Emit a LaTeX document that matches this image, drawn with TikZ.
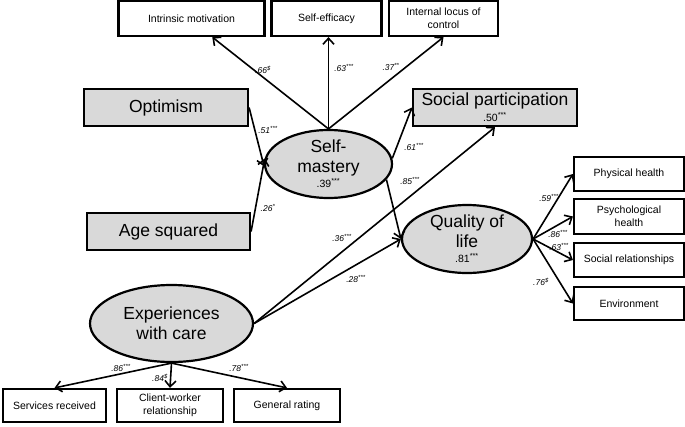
\documentclass[tikz,border=0pt]{standalone}
\usepackage{fontspec}
\setmainfont{Liberation Sans}
\usetikzlibrary{arrows.meta,calc,shapes.geometric}
\definecolor{boxgray}{HTML}{D9D9D9}
\begin{document}
\begin{tikzpicture}[x=1pt,y=-1pt,
    latent/.style={ellipse,draw,line width=2.2pt,fill=boxgray,inner sep=0pt,align=center,font=\fontsize{17.5}{20}\selectfont},
    observed/.style={rectangle,draw,line width=2.2pt,fill=boxgray,inner sep=0pt,align=center,font=\fontsize{17.5}{20}\selectfont},
    indicator/.style={rectangle,draw,line width=2.2pt,fill=white,inner sep=0pt,align=center,font=\fontsize{10.5}{13}\selectfont},
    coef/.style={font=\fontsize{8.5}{9}\selectfont\itshape,inner sep=0pt},
    path/.style={line width=1.6pt,-{Straight Barb[length=6pt,width=11pt,line width=1.6pt]}}]
  \useasboundingbox (0,0) rectangle (685,426);
  \draw
    (191.5,18.5) node[indicator,minimum width=146pt,minimum height=35pt] (intr){Intrinsic motivation}
    (326.5,18.5) node[indicator,minimum width=110pt,minimum height=35pt] (selfeff){Self-efficacy}
    (443.5,18.5) node[indicator,minimum width=109pt,minimum height=35pt] (locus){Internal locus of\\control}
    (166,107.5) node[observed,minimum width=164pt,minimum height=37pt] (optim){Optimism}
    (168.5,231.5) node[observed,minimum width=163pt,minimum height=37pt] (agesq){Age squared}
    (495,107.5) node[observed,minimum width=164pt,minimum height=37pt] (socpart){Social participation\\[-4pt]{\fontsize{10.5}{11}\selectfont .50\textsuperscript{***}}}
    (328.5,164) node[latent,minimum width=127pt,minimum height=68pt] (selfm){Self-\\mastery\\[-5pt]{\fontsize{10.5}{11}\selectfont .39\textsuperscript{***}}}
    (467,239) node[latent,minimum width=130pt,minimum height=68pt] (qol){Quality of\\life\\[-5pt]{\fontsize{10.5}{11}\selectfont .81\textsuperscript{***}}}
    (171.5,323.5) node[latent,minimum width=163pt,minimum height=77pt] (exp){Experiences\\with care}
    (629,174) node[indicator,minimum width=110pt,minimum height=34pt] (phys){Physical health}
    (629,216.5) node[indicator,minimum width=110pt,minimum height=35pt] (psych){Psychological\\health}
    (629,260) node[indicator,minimum width=110pt,minimum height=34pt] (socrel){Social relationships}
    (629,303.5) node[indicator,minimum width=110pt,minimum height=33pt] (env){Environment}
    (54.5,405.5) node[indicator,minimum width=103pt,minimum height=33pt] (serv){Services received}
    (170,405.5) node[indicator,minimum width=106pt,minimum height=33pt] (client){Client-worker\\relationship}
    (287,405.5) node[indicator,minimum width=106pt,minimum height=33pt] (general){General rating};
  \begin{scope}[path]
    \draw (selfm.north) to ($(intr.south)!0.28!(intr.south east)$);
    \draw (selfm.north) to (selfm.north |- selfeff.south);
    \draw (selfm.north) to (locus.south);
    \draw (optim.east) to (selfm.182);
    \draw (agesq.east) to (selfm.175);
    \draw (selfm.5) to (socpart.west);
    \draw (selfm.-15) to (qol.west);
    \draw (exp.east) to (socpart.south);
    \draw (exp.east) to (qol.west);
    \draw (qol.east) to (phys.west);
    \draw (qol.east) to (psych.west);
    \draw (qol.east) to (socrel.west);
    \draw (qol.east) to (env.west);
    \draw (exp.south) to (serv.north);
    \draw (exp.south) to (client.north);
    \draw (exp.south) to (general.north);
  \end{scope}
  \draw[coef]
    (263,70) node (c1){.66\textsuperscript{\$}}
    (344,68) node (c2){.63\textsuperscript{***}}
    (391,67) node (c3){.37\textsuperscript{**}}
    (268,130) node (c4){.51\textsuperscript{***}}
    (268,208) node (c5){.26\textsuperscript{*}}
    (414,147) node (c6){.61\textsuperscript{***}}
    (410,181) node (c7){.85\textsuperscript{***}}
    (342,238) node (c8){.36\textsuperscript{***}}
    (356,279) node (c9){.28\textsuperscript{***}}
    (549,198) node (c10){.59\textsuperscript{***}}
    (558,234) node (c11){.86\textsuperscript{***}}
    (559,247) node (c12){.63\textsuperscript{***}}
    (541,282) node (c13){.76\textsuperscript{\$}}
    (121,368) node (c14){.86\textsuperscript{***}}
    (160,378) node (c15){.84\textsuperscript{\$}}
    (239,368) node (c16){.78\textsuperscript{***}};
\end{tikzpicture}
\end{document}
